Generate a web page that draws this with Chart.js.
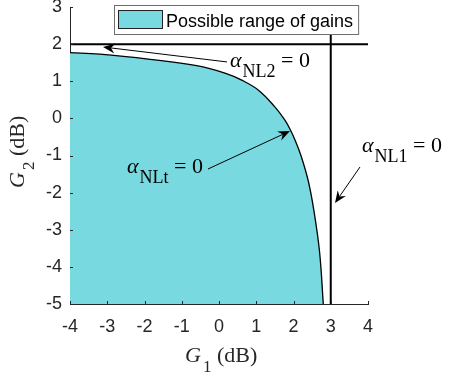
<!DOCTYPE html>
<html><head><meta charset="utf-8">
<script src="https://cdn.jsdelivr.net/npm/chart.js@4/dist/chart.umd.min.js"></script>
<style>html,body{margin:0;padding:0;background:#fff;overflow:hidden}#wrap{width:449px;height:379px;position:relative}canvas{display:block}</style>
</head><body>
<div id="wrap"><canvas id="c" width="449" height="379"></canvas></div>
<script>
// ---- data ----
const g1Curve = [-4, -3.2, -1.85, -0.6, 0.16, 0.61, 1.06, 1.5, 1.77, 1.91, 2.04, 2.2, 2.4, 2.55, 2.7, 2.8];
const g2Curve = [1.77, 1.73, 1.59, 1.42, 1.22, 1.03, 0.76, 0.31, -0.05, -0.3, -0.58, -1.0, -1.7, -2.5, -3.6, -5];
const alphaNL2LineG2 = 2;   // horizontal limit line
const alphaNL1LineG1 = 3;   // vertical limit line
const xTickValues = [-4, -3, -2, -1, 0, 1, 2, 3, 4];
const xTickLabels = ['-4', '-3', '-2', '-1', '0', '1', '2', '3', '4'];
const yTickValues = [-5, -4, -3, -2, -1, 0, 1, 2, 3];
const yTickLabels = ['-5', '-4', '-3', '-2', '-1', '0', '1', '2', '3'];
const legendLabel = 'Possible range of gains';
const annoSymbols = ['α', 'α', 'α'];
const annoSubs = ['NL2', 'NLt', 'NL1'];
const annoTails = [' = 0', ' = 0', ' = 0'];
const xTitle = ['G', '1', ' (dB)'];
const yTitle = ['G', '2', ' (dB)'];

// ---- layout / style (not data) ----
const annoTextAt = [[0.295, 1.384], [-2.47, -1.471], [3.839, -0.906]];
const annoArrowFrom = [[0.215, 1.52], [-0.295, -1.364], [3.785, -1.31]];
const annoArrowTo = [[-3.114, 1.923], [1.906, -0.34], [3.114, -2.28]];
const FILL = 'rgb(120,217,224)';
const SANS = '"Liberation Sans", Arial, sans-serif';
const SERIF = '"Liberation Serif", "Times New Roman", serif';
const AX = '#262626';

const pts = (xs, ys) => xs.map((x, i) => ({x: x, y: ys[i]}));

function arrow(ctx, x0, y0, x1, y1) {
  const a = Math.atan2(y1 - y0, x1 - x0);
  const L = 12, W = 5, N = 8;
  const ux = Math.cos(a), uy = Math.sin(a);
  const px = -uy, py = ux;
  ctx.beginPath();
  ctx.moveTo(x0, y0);
  ctx.lineTo(x1 - ux * N, y1 - uy * N);
  ctx.lineWidth = 1; ctx.strokeStyle = '#000'; ctx.stroke();
  ctx.beginPath();
  ctx.moveTo(x1, y1);
  ctx.lineTo(x1 - ux * L + px * W, y1 - uy * L + py * W);
  ctx.lineTo(x1 - ux * N, y1 - uy * N);
  ctx.lineTo(x1 - ux * L - px * W, y1 - uy * L - py * W);
  ctx.closePath();
  ctx.fillStyle = '#000'; ctx.fill();
}

const overlay = {
  id: 'overlay',
  afterDatasetsDraw(chart) {
    const ctx = chart.ctx, xs = chart.scales.x, ys = chart.scales.y;
    const ca = chart.chartArea;
    ctx.save();
    // inward ticks
    ctx.strokeStyle = AX; ctx.lineWidth = 1;
    ctx.beginPath();
    xTickValues.forEach(v => {
      const p = Math.round(xs.getPixelForValue(v)) + 0.5;
      ctx.moveTo(p, ca.bottom); ctx.lineTo(p, ca.bottom - 3);
    });
    yTickValues.forEach(v => {
      const p = Math.round(ys.getPixelForValue(v)) + 0.5;
      ctx.moveTo(ca.left, p); ctx.lineTo(ca.left + 3, p);
    });
    ctx.stroke();

    // legend
    ctx.font = '18px ' + SANS;
    const tw = ctx.measureText(legendLabel).width;
    const bx = 114.5, by = 5.5, bh = 29;
    const bw = (166 - 114) + tw + 5;
    ctx.fillStyle = '#fff'; ctx.fillRect(bx, by, bw, bh);
    ctx.strokeStyle = '#6e6e6e'; ctx.lineWidth = 1; ctx.strokeRect(bx, by, bw, bh);
    ctx.fillStyle = chart.data.datasets[0].backgroundColor;
    ctx.fillRect(118.5, 10.5, 44, 18);
    ctx.strokeStyle = '#222'; ctx.strokeRect(118.5, 10.5, 44, 18);
    ctx.fillStyle = '#000'; ctx.textBaseline = 'alphabetic'; ctx.textAlign = 'left';
    ctx.fillText(legendLabel, 166, 26.5);

    // annotations
    for (let i = 0; i < annoSymbols.length; i++) {
      arrow(ctx, xs.getPixelForValue(annoArrowFrom[i][0]), ys.getPixelForValue(annoArrowFrom[i][1]),
                 xs.getPixelForValue(annoArrowTo[i][0]), ys.getPixelForValue(annoArrowTo[i][1]));
      let x = xs.getPixelForValue(annoTextAt[i][0]);
      const y = ys.getPixelForValue(annoTextAt[i][1]);
      ctx.fillStyle = '#000';
      ctx.font = 'italic 22px ' + SERIF;
      ctx.fillText(annoSymbols[i], x, y);
      x += ctx.measureText(annoSymbols[i]).width + 1;
      ctx.font = '18px ' + SERIF;
      ctx.fillText(annoSubs[i], x, y + 10);
      x += ctx.measureText(annoSubs[i]).width;
      ctx.font = '22px ' + SERIF;
      ctx.fillText(annoTails[i], x, y);
    }
    ctx.restore();
  },
  afterDraw(chart) {
    const ctx = chart.ctx;
    ctx.save();
    ctx.fillStyle = AX; ctx.textBaseline = 'alphabetic'; ctx.textAlign = 'left';
    const drawTitle = (parts) => {
      let x = 0;
      ctx.font = 'italic 22px ' + SERIF;
      ctx.fillText(parts[0], x, 0);
      x += ctx.measureText(parts[0]).width + 2;
      ctx.font = '17px ' + SERIF;
      ctx.fillText(parts[1], x, 10);
      x += ctx.measureText(parts[1]).width;
      ctx.font = '22px ' + SERIF;
      ctx.fillText(parts[2], x, 0);
    };
    ctx.save(); ctx.translate(185, 362); drawTitle(xTitle); ctx.restore();
    ctx.save(); ctx.translate(24, 188); ctx.rotate(-Math.PI / 2); drawTitle(yTitle); ctx.restore();
    ctx.restore();
  }
};

new Chart(document.getElementById('c'), {
  type: 'line',
  data: {
    datasets: [
      {label: legendLabel, data: pts(g1Curve, g2Curve), fill: 'start', backgroundColor: FILL,
       borderColor: '#000', borderWidth: 1.3, pointRadius: 0, tension: 0.4, order: 3},
      {label: 'alphaNL2', data: pts([-4, 4], [alphaNL2LineG2, alphaNL2LineG2]), borderColor: '#000',
       borderWidth: 2, pointRadius: 0, fill: false, order: 2},
      {label: 'alphaNL1', data: pts([alphaNL1LineG1, alphaNL1LineG1], [-5, 3]), borderColor: '#000',
       borderWidth: 2, pointRadius: 0, fill: false, order: 1}
    ]
  },
  options: {
    responsive: false, animation: false, devicePixelRatio: 1,
    layout: {padding: {left: 0, right: 81, top: 7, bottom: 0}},
    plugins: {legend: {display: false}, tooltip: {enabled: false}},
    scales: {
      x: {
        type: 'linear', min: -4, max: 4,
        grid: {display: false, drawTicks: false},
        border: {display: true, color: AX, width: 1},
        ticks: {font: {family: SANS, size: 18}, color: AX, padding: 12, maxRotation: 0, autoSkip: false,
                callback: (v) => xTickLabels[xTickValues.indexOf(v)]},
        afterBuildTicks: s => { s.ticks = xTickValues.map(v => ({value: v})); },
        afterFit: s => { s.height = 75; s.paddingLeft = 0; s.paddingRight = 0; }
      },
      y: {
        type: 'linear', min: -5, max: 3,
        grid: {display: false, drawTicks: false},
        border: {display: true, color: AX, width: 1},
        ticks: {font: {family: SANS, size: 18}, color: AX, padding: 8, autoSkip: false,
                callback: (v) => yTickLabels[yTickValues.indexOf(v)]},
        afterBuildTicks: s => { s.ticks = yTickValues.map(v => ({value: v})); },
        afterFit: s => { s.width = 70; s.paddingTop = 0; s.paddingBottom = 0; }
      }
    }
  },
  plugins: [overlay]
});
</script>
</body></html>
